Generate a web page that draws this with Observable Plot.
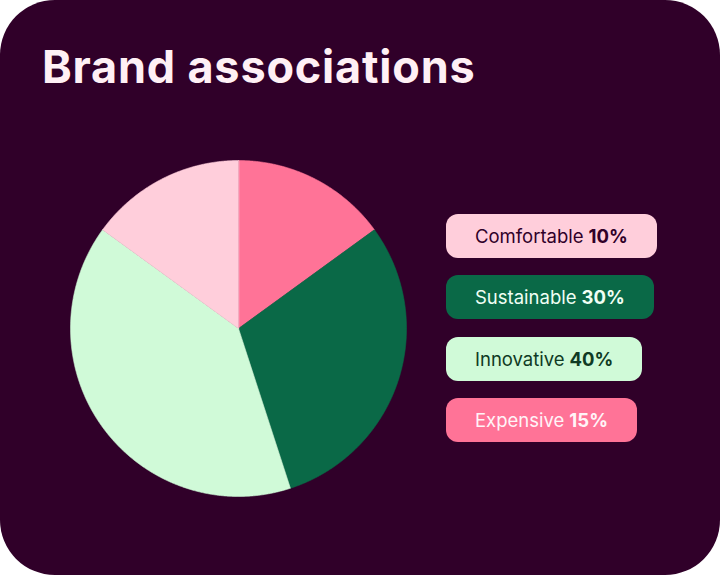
<!DOCTYPE html>
<html>
<head>
<meta charset="utf-8">
<script src="https://cdn.jsdelivr.net/npm/d3@7"></script>
<script src="https://cdn.jsdelivr.net/npm/@observablehq/plot@0.6"></script>
<style>
  html, body { margin: 0; padding: 0; background: #ffffff; }
  #card {
    position: relative; width: 720px; height: 575px;
    background: #300029; border-radius: 55px; overflow: hidden;
    font-family: Inter, "Noto Sans", sans-serif;
  }
  #title {
    position: absolute; left: 42px; top: 44px; margin: 0;
    font-size: 45px; line-height: 45px; font-weight: 700;
    color: #fff0f5; letter-spacing: 0.8px; white-space: nowrap;
  }
  #pie { position: absolute; left: 70px; top: 160px; }
  #legend {
    position: absolute; left: 446px; top: 214px;
    display: flex; flex-direction: column; align-items: flex-start; gap: 17.4px;
  }
  .pill {
    height: 44px; box-sizing: border-box; padding: 0 29px 0 29px;
    border-radius: 12px; display: flex; align-items: center;
    font-size: 18.5px; letter-spacing: 0px; white-space: nowrap;
  }
  .pill b { font-weight: 700; margin-left: 5px; }
</style>
</head>
<body>
<div id="card">
  <h1 id="title">Brand associations</h1>
  <div id="pie"></div>
  <div id="legend"></div>
</div>
<script>
// Legend order
const categories = ["Comfortable", "Sustainable", "Innovative", "Expensive"];
const labelPercents = ["10%", "30%", "40%", "15%"];
// Slice sizes as drawn in the picture (percent of the circle)
const sliceShares = [15, 30, 40, 15];
// Clockwise drawing order from 12 o'clock
const sliceOrder = ["Expensive", "Sustainable", "Innovative", "Comfortable"];
const fillColors = ["#ffcedb", "#0a6947", "#d0fad8", "#ff7397"];
const textColors = ["#300029", "#f0fff4", "#0f3a24", "#fff4f7"];

const shareOf = new Map(categories.map((c, i) => [c, sliceShares[i]]));
const arcs = d3.pie().sort(null).value(c => shareOf.get(c)).startAngle(0).endAngle(2 * Math.PI)(sliceOrder);

function ring(a0, a1) {
  const pts = [[0, 0]];
  const n = Math.max(2, Math.ceil((a1 - a0) / 0.005));
  for (let i = 0; i <= n; i++) {
    const a = a0 + (a1 - a0) * i / n;
    pts.push([Math.sin(a), Math.cos(a)]);
  }
  pts.push([0, 0]);
  return pts;
}

const features = arcs.map(a => ({
  type: "Feature",
  properties: { category: a.data },
  geometry: { type: "Polygon", coordinates: [ring(a.startAngle, a.endAngle)] }
}));

const chart = Plot.plot({
  width: 336,
  height: 336,
  margin: 0,
  style: { background: "transparent", overflow: "visible" },
  projection: { type: "reflect-y", domain: { type: "MultiPoint", coordinates: [[-1, -1], [1, 1]] } },
  color: { type: "ordinal", domain: categories, range: fillColors },
  marks: [
    Plot.geo(features, {
      fill: d => d.properties.category,
      stroke: d => d.properties.category,
      strokeWidth: 0.6
    })
  ]
});
document.getElementById("pie").appendChild(chart);

const legend = document.getElementById("legend");
categories.forEach((c, i) => {
  const p = document.createElement("div");
  p.className = "pill";
  p.style.background = fillColors[i];
  p.style.color = textColors[i];
  p.innerHTML = `<span>${c}</span><b>${labelPercents[i]}</b>`;
  legend.appendChild(p);
});
</script>
</body>
</html>
